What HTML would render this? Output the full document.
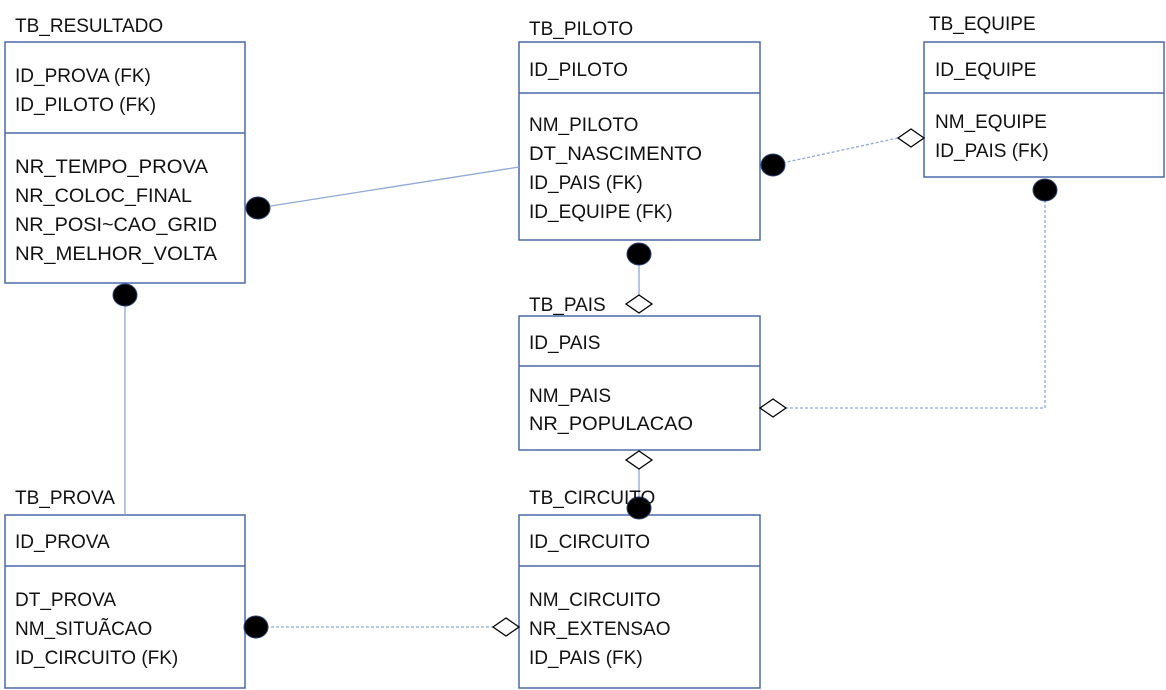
<!DOCTYPE html>
<html><head><meta charset="utf-8"><style>
html,body{margin:0;padding:0;background:#fff;width:1166px;height:690px;overflow:hidden}
svg text{font-family:"Liberation Sans",sans-serif;font-size:19px;fill:#111}
</style></head><body>
<svg width="1166" height="690" viewBox="0 0 1166 690" xmlns="http://www.w3.org/2000/svg">
<g fill="none" stroke="#4a6aa8" stroke-width="1.5">
<rect x="5" y="42" width="240" height="241"/><line x1="5" y1="133" x2="245" y2="133"/>
<rect x="519" y="42" width="241" height="198"/><line x1="519" y1="93" x2="760" y2="93"/>
<rect x="924" y="42" width="240" height="135"/><line x1="924" y1="93" x2="1164" y2="93"/>
<rect x="519" y="316" width="241" height="134"/><line x1="519" y1="366" x2="760" y2="366"/>
<rect x="5" y="515" width="240" height="173"/><line x1="5" y1="566" x2="245" y2="566"/>
<rect x="519" y="515" width="241" height="173"/><line x1="519" y1="566" x2="760" y2="566"/>
</g>
<g stroke="#8fa9d8" stroke-width="1.3" fill="none">
<line x1="258" y1="208" x2="519" y2="167"/>
<line x1="125" y1="295" x2="125" y2="515"/>
<line x1="639" y1="254" x2="639" y2="296"/>
<line x1="639" y1="468" x2="639" y2="508"/>
<g stroke-dasharray="3,2">
<line x1="773" y1="165" x2="898" y2="138"/>
<polyline points="1045,190 1045,408 786,408"/>
<line x1="256" y1="627" x2="493" y2="627"/>
</g></g>
<g fill="#000" stroke="#2a3f70" stroke-width="1">
<ellipse cx="258" cy="208" rx="12" ry="11"/>
<ellipse cx="125" cy="295" rx="12" ry="11"/>
<ellipse cx="773" cy="165" rx="12" ry="11"/>
<ellipse cx="639" cy="254" rx="12" ry="11"/>
<ellipse cx="1045" cy="190" rx="12" ry="11"/>
<ellipse cx="639" cy="508" rx="12" ry="11"/>
<ellipse cx="256" cy="627" rx="12" ry="11"/>
</g>
<g fill="#fff" stroke="#000" stroke-width="1.3">
<polygon points="898,138 911,129 924,138 911,147"/>
<polygon points="626,304 639,295 652,304 639,313"/>
<polygon points="760,408 773,399 786,408 773,417"/>
<polygon points="626,460 639,451 652,460 639,469"/>
<polygon points="493,627 506,618 519,627 506,636"/>
</g>
<text x="15" y="32">TB_RESULTADO</text>
<text x="15" y="82">ID_PROVA (FK)</text>
<text x="15" y="111">ID_PILOTO (FK)</text>
<text x="15" y="173" textLength="193" lengthAdjust="spacingAndGlyphs">NR_TEMPO_PROVA</text>
<text x="15" y="202" textLength="177" lengthAdjust="spacingAndGlyphs">NR_COLOC_FINAL</text>
<text x="15" y="231" textLength="202" lengthAdjust="spacingAndGlyphs">NR_POSI~CAO_GRID</text>
<text x="15" y="260" textLength="202" lengthAdjust="spacingAndGlyphs">NR_MELHOR_VOLTA</text>
<text x="529" y="35">TB_PILOTO</text>
<text x="529" y="76">ID_PILOTO</text>
<text x="529" y="131">NM_PILOTO</text>
<text x="529" y="160" textLength="173" lengthAdjust="spacingAndGlyphs">DT_NASCIMENTO</text>
<text x="529" y="189">ID_PAIS (FK)</text>
<text x="529" y="218">ID_EQUIPE (FK)</text>
<text x="929" y="30">TB_EQUIPE</text>
<text x="935" y="76">ID_EQUIPE</text>
<text x="935" y="128">NM_EQUIPE</text>
<text x="935" y="157">ID_PAIS (FK)</text>
<text x="529" y="311">TB_PAIS</text>
<text x="529" y="349">ID_PAIS</text>
<text x="529" y="402">NM_PAIS</text>
<text x="529" y="430" textLength="164" lengthAdjust="spacingAndGlyphs">NR_POPULACAO</text>
<text x="15" y="504">TB_PROVA</text>
<text x="15" y="548">ID_PROVA</text>
<text x="15" y="606">DT_PROVA</text>
<text x="15" y="635">NM_SITUÃCAO</text>
<text x="15" y="664">ID_CIRCUITO (FK)</text>
<text x="529" y="504">TB_CIRCUITO</text>
<text x="529" y="548">ID_CIRCUITO</text>
<text x="529" y="606">NM_CIRCUITO</text>
<text x="529" y="635">NR_EXTENSAO</text>
<text x="529" y="664">ID_PAIS (FK)</text>
</svg>
</body></html>
